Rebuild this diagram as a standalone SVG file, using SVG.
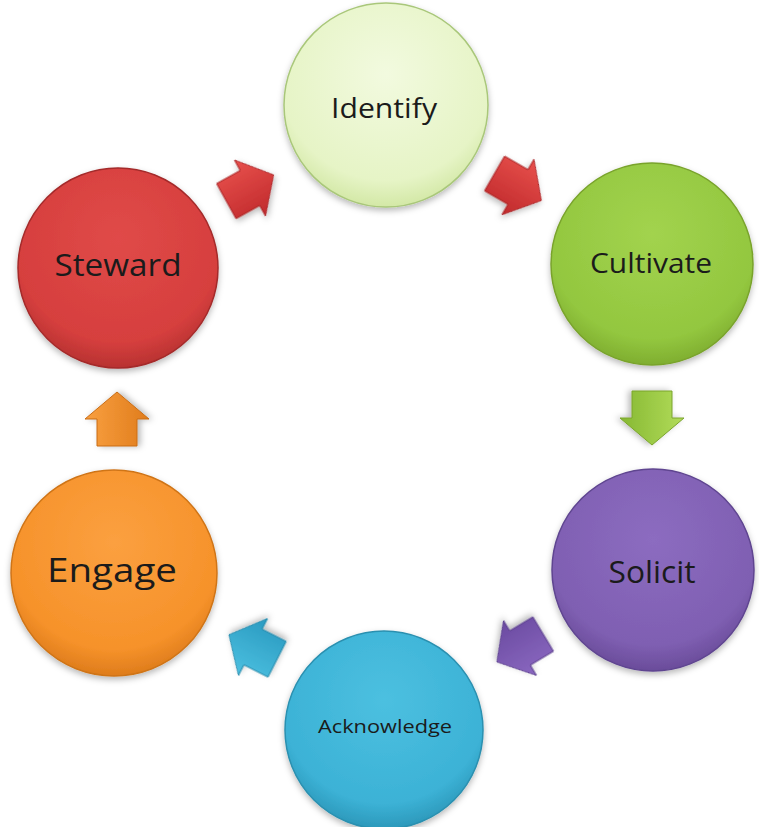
<svg xmlns="http://www.w3.org/2000/svg" width="759" height="827" viewBox="0 0 759 827">
<defs>
<filter id="sh" x="-20%" y="-20%" width="140%" height="140%">
<feDropShadow dx="0" dy="3" stdDeviation="3" flood-color="#000" flood-opacity="0.28"/>
</filter>
<radialGradient id="gI" cx="50%" cy="35%" r="65%"><stop offset="0" stop-color="#f2fadf"/><stop offset="0.8" stop-color="#e6f4c6"/><stop offset="1" stop-color="#d3e8a6"/></radialGradient>
<radialGradient id="gC" cx="50%" cy="35%" r="65%"><stop offset="0" stop-color="#a2d34e"/><stop offset="0.8" stop-color="#93c73f"/><stop offset="1" stop-color="#7fae30"/></radialGradient>
<radialGradient id="gS" cx="50%" cy="35%" r="65%"><stop offset="0" stop-color="#8c6cc0"/><stop offset="0.8" stop-color="#7f5fb2"/><stop offset="1" stop-color="#6a4c9a"/></radialGradient>
<radialGradient id="gA" cx="50%" cy="35%" r="65%"><stop offset="0" stop-color="#4cc0e0"/><stop offset="0.8" stop-color="#3cb2d6"/><stop offset="1" stop-color="#2c98ba"/></radialGradient>
<radialGradient id="gE" cx="50%" cy="35%" r="65%"><stop offset="0" stop-color="#fba040"/><stop offset="0.8" stop-color="#f6922a"/><stop offset="1" stop-color="#de7c1c"/></radialGradient>
<radialGradient id="gW" cx="50%" cy="35%" r="65%"><stop offset="0" stop-color="#e04a48"/><stop offset="0.8" stop-color="#d63f3e"/><stop offset="1" stop-color="#b83231"/></radialGradient>
<linearGradient id="aR" x1="0" y1="0" x2="0" y2="1"><stop offset="0" stop-color="#e8504c"/><stop offset="1" stop-color="#c02a2c"/></linearGradient>
<linearGradient id="aG" x1="0" y1="0" x2="0" y2="1"><stop offset="0" stop-color="#b2dc5a"/><stop offset="1" stop-color="#86b832"/></linearGradient>
<linearGradient id="aP" x1="0" y1="0" x2="0" y2="1"><stop offset="0" stop-color="#8a68c0"/><stop offset="1" stop-color="#6a4aa0"/></linearGradient>
<linearGradient id="aB" x1="0" y1="0" x2="0" y2="1"><stop offset="0" stop-color="#4cc0e0"/><stop offset="1" stop-color="#2a9ac0"/></linearGradient>
<linearGradient id="aO" x1="0" y1="0" x2="0" y2="1"><stop offset="0" stop-color="#f9a040"/><stop offset="1" stop-color="#e07c1c"/></linearGradient>
<path id="arrow" d="M-27,-20 L0,-20 L0,-32 L27,0 L0,32 L0,20 L-27,20 Z"/>
</defs>
<style>
.node circle{filter:url(#sh);stroke-width:1.5}
.lbl{font-family:"Open Sans",Lato,"Liberation Sans",sans-serif;text-anchor:middle;fill:#1b1b1b}
.arr use{filter:url(#sh);stroke-width:1}
</style>
<rect width="759" height="827" fill="#ffffff"/>
<g id="connectors" class="arr">
<use href="#arrow" transform="translate(250,188) rotate(-29)" fill="url(#aR)" stroke="#a82226"/>
<use href="#arrow" transform="translate(518,187) rotate(30)" fill="url(#aR)" stroke="#a82226"/>
<use href="#arrow" transform="translate(652,418) rotate(90)" fill="url(#aG)" stroke="#7aa42c"/>
<use href="#arrow" transform="translate(520,648) rotate(149)" fill="url(#aP)" stroke="#5a3e8c"/>
<use href="#arrow" transform="translate(253,647) rotate(207)" fill="url(#aB)" stroke="#2588aa"/>
<use href="#arrow" transform="translate(117,419) rotate(-90)" fill="url(#aO)" stroke="#c86c14"/>
</g>
<g id="identify" class="node">
<circle cx="386" cy="105" r="102" fill="url(#gI)" stroke="#a9c77a"/>
<text class="lbl" x="384" y="118" font-size="28" textLength="106" lengthAdjust="spacingAndGlyphs">Identify</text>
</g>
<g id="cultivate" class="node">
<circle cx="652" cy="264" r="101" fill="url(#gC)" stroke="#79a32c"/>
<text class="lbl" x="651" y="273" font-size="27" textLength="122" lengthAdjust="spacingAndGlyphs">Cultivate</text>
</g>
<g id="solicit" class="node">
<circle cx="653" cy="570" r="101" fill="url(#gS)" stroke="#5f4590"/>
<text class="lbl" x="652" y="583" font-size="31" textLength="87" lengthAdjust="spacingAndGlyphs">Solicit</text>
</g>
<g id="acknowledge" class="node">
<circle cx="384" cy="730" r="99" fill="url(#gA)" stroke="#2a90b0"/>
<text class="lbl" x="385" y="733" font-size="18" fill="#13283a" textLength="134" lengthAdjust="spacingAndGlyphs">Acknowledge</text>
</g>
<g id="engage" class="node">
<circle cx="114" cy="573" r="103" fill="url(#gE)" stroke="#cf7418"/>
<text class="lbl" x="112" y="582" font-size="33" textLength="130" lengthAdjust="spacingAndGlyphs">Engage</text>
</g>
<g id="steward" class="node">
<circle cx="118" cy="268" r="100" fill="url(#gW)" stroke="#a42a2a"/>
<text class="lbl" x="118" y="276" font-size="31" textLength="127" lengthAdjust="spacingAndGlyphs">Steward</text>
</g>
</svg>
